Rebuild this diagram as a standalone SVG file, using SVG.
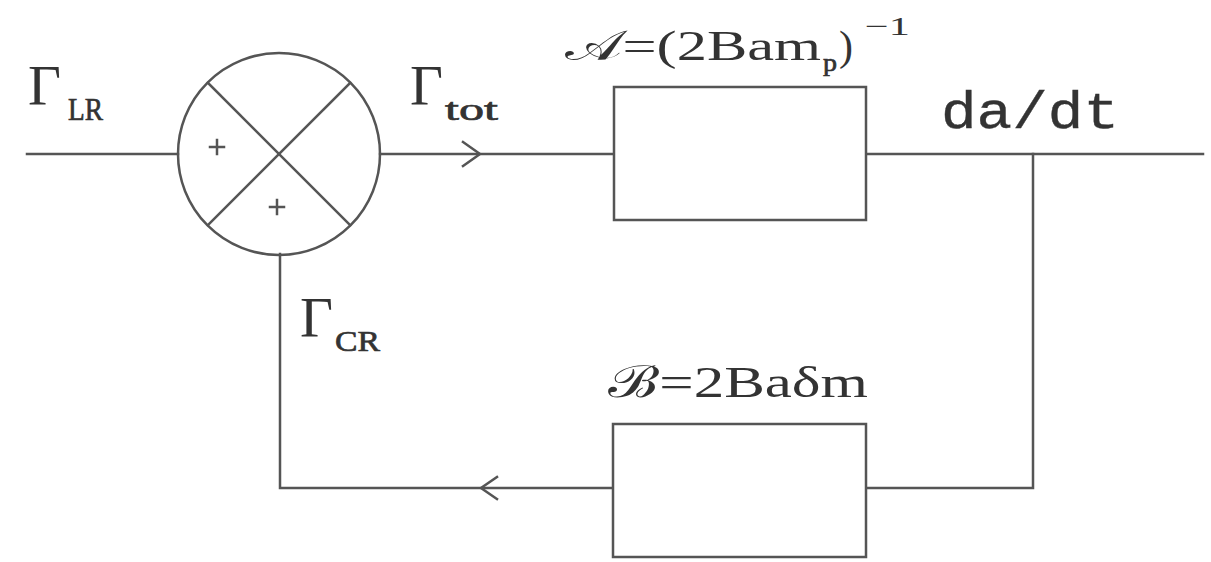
<svg xmlns="http://www.w3.org/2000/svg" width="1211" height="562" viewBox="0 0 1211 562">
<style>
.ln{fill:none;stroke:#555;stroke-width:2.5;stroke-linecap:square}
.bx{fill:#fff;stroke:#555;stroke-width:2.5}
.tx{font-family:"Liberation Serif","DejaVu Serif",serif;fill:#333}
.sb{font-family:"Liberation Serif","DejaVu Serif",serif;fill:#333;stroke:#333;stroke-width:0.7}
.mn{font-family:"Liberation Mono","DejaVu Sans Mono",monospace;fill:#333;stroke:#333;stroke-width:0.4}
</style>
<rect width="1211" height="562" fill="#fff"/>
<g id="connectors">
<line class="ln" x1="27" y1="154" x2="178" y2="154"/>
<line class="ln" x1="380" y1="154" x2="614" y2="154"/>
<polyline class="ln" points="463,142 480,154 463,166" stroke-linejoin="miter"/>
<line class="ln" x1="866" y1="154" x2="1203" y2="154"/>
<polyline class="ln" points="1033,154 1033,488 866,488"/>
<polyline class="ln" points="613,488 280,488 280,254"/>
<polyline class="ln" points="497,477 481,488 497,499"/>
</g>
<g id="sum">
<circle class="ln" cx="279" cy="154" r="101"/>
<line class="ln" x1="208" y1="83" x2="350" y2="225"/>
<line class="ln" x1="350" y1="83" x2="208" y2="225"/>
<path class="ln" d="M210 147H224M217 140V154" stroke-width="2"/>
<path class="ln" d="M270 207H284M277 200V214" stroke-width="2"/>
</g>
<g id="boxA">
<rect class="bx" x="614" y="87" width="252" height="133"/>
<text class="tx" x="565" y="60" font-size="42" textLength="256" lengthAdjust="spacingAndGlyphs">𝒜=(2Bam</text>
<text class="sb" x="823" y="71" font-size="26" textLength="14" lengthAdjust="spacingAndGlyphs">p</text>
<text class="tx" x="839" y="60" font-size="42">)</text>
<text class="tx" x="865" y="35" font-size="26" textLength="45" lengthAdjust="spacingAndGlyphs">−1</text>
</g>
<g id="boxB">
<rect class="bx" x="613" y="424" width="253" height="133"/>
<text class="tx" x="608" y="397" font-size="44" textLength="260" lengthAdjust="spacingAndGlyphs">ℬ=2Baδm</text>
</g>
<g id="labels">
<text class="tx" x="28" y="105" font-size="57">Γ</text>
<text class="sb" x="68" y="120" font-size="32" textLength="35" lengthAdjust="spacingAndGlyphs">LR</text>
<text class="tx" x="410" y="105" font-size="57">Γ</text>
<text class="sb" x="445" y="120" font-size="32" textLength="53" lengthAdjust="spacingAndGlyphs">tot</text>
<text class="tx" x="300" y="337" font-size="57">Γ</text>
<text class="sb" x="335" y="351" font-size="30" textLength="45" lengthAdjust="spacingAndGlyphs">CR</text>
<text class="mn" x="941" y="128" font-size="52" textLength="178" lengthAdjust="spacingAndGlyphs">da/dt</text>
</g>
</svg>
